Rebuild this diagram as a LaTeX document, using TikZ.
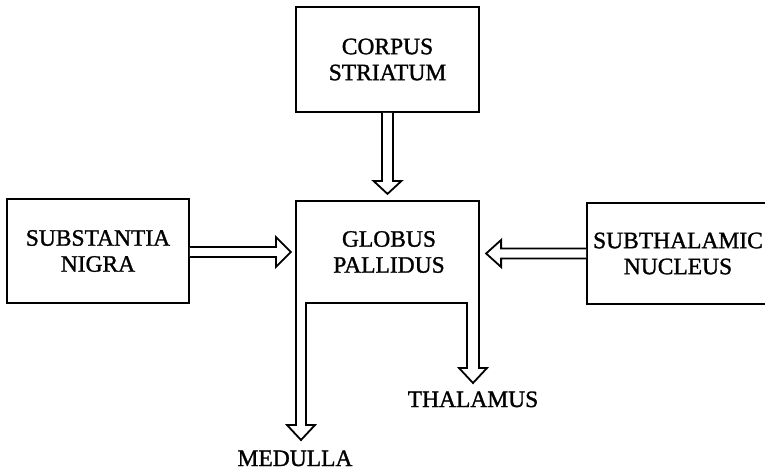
\documentclass[tikz,border=0pt]{standalone}
\usepackage{fontspec}
\setmainfont[FakeBold=1.2,AutoFakeBold=1.2]{Liberation Serif}
\begin{document}
\begin{tikzpicture}[x=1pt,y=-1pt,line width=1.8pt,line join=miter,
  lbl/.style={font=\fontsize{23.5}{26}\selectfont\bfseries,align=center,inner sep=0pt},
  box/.style={lbl,draw,minimum width=182pt,minimum height=104pt},
  hollow/.style={draw,fill=white}]
\fill[white] (0,0) rectangle (765,472);
\useasboundingbox (0,0) rectangle (765,472);

% source boxes
\node[box,minimum width=183pt,minimum height=105pt] (cs) at (387.5,59.5) {CORPUS\\STRIATUM};
\node[box] (sn) at (98,251) {SUBSTANTIA\\NIGRA};
\node[box,minimum height=101pt] (st) at (678,253.5) {SUBTHALAMIC\\NUCLEUS};

% globus pallidus with its two outflow arrows
\node[lbl] (gp) at (389,252) {GLOBUS\\PALLIDUS};
\draw (296,425) -- (296,201) -- (479,201) -- (479,368) -- (487,368)
  -- (473,383) -- (459,368) -- (467,368) -- (467,303) -- (306,303)
  -- (306,425) -- (315,425) -- (301,440) -- (287,425) -- cycle;

% targets
\node[lbl,anchor=base] (th) at (473,407) {THALAMUS};
\node[lbl,anchor=base] (me) at (295,466) {MEDULLA};

% hollow input arrows
\draw[hollow] (cs.south) ++(-5.5,0) -- ++(0,68) -- ++(-8.5,0) -- ++(14,13)
  -- ++(14,-13) -- ++(-8.5,0) -- ++(0,-68);
\draw[hollow] (sn.east) ++(0,-4) -- ++(86,0) -- ++(0,-10) -- ++(15,15)
  -- ++(-15,15) -- ++(0,-10) -- ++(-86,0);
\draw[hollow] (st.west) ++(0,-5) -- ++(-85,0) -- ++(0,-8.5) -- ++(-15,13.5)
  -- ++(15,13.5) -- ++(0,-8.5) -- ++(85,0);
\end{tikzpicture}
\end{document}
